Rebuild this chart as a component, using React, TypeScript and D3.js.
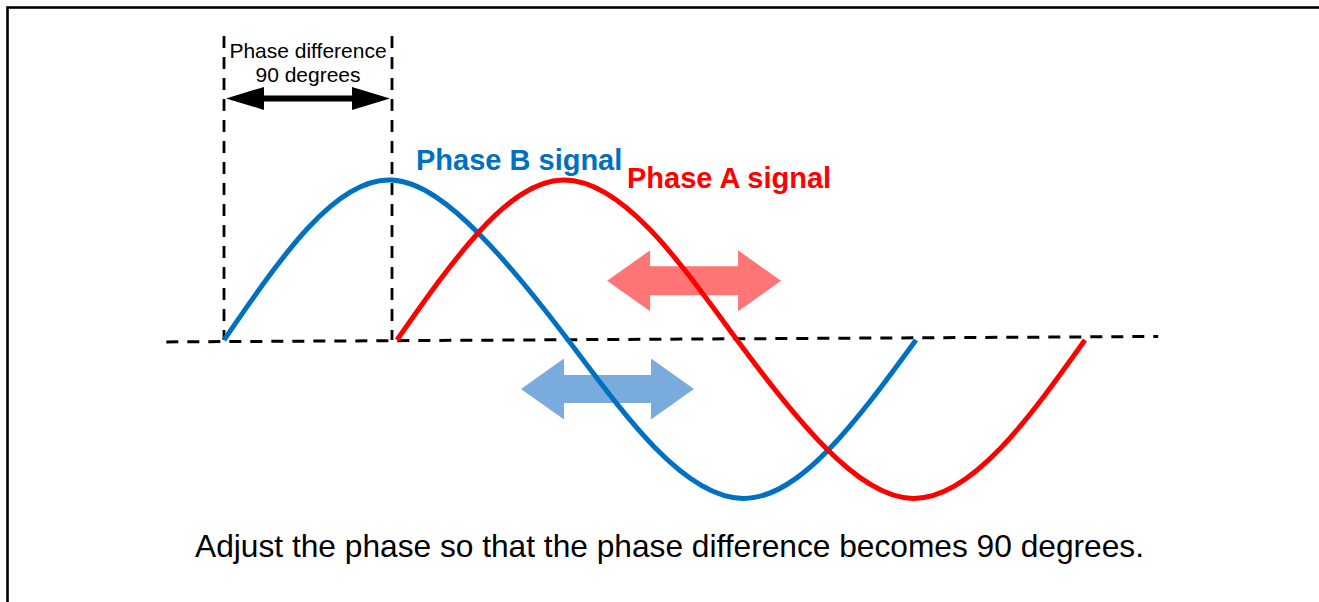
import React from 'react';
import * as d3 from 'd3';

// phase in degrees, amplitude in signal units
const phaseB = [0, 43.7, 87.4, 133, 179, 224, 270, 315, 360];
const ampB = [0, 0.7, 1.0, 0.66, 0, -0.67, -0.99, -0.68, 0];

const phaseA = [90, 133, 176.4, 221.6, 266.9, 312.7, 358.4, 403.7, 447.9];
const ampA = [0, 0.68, 1.0, 0.69, 0, -0.67, -0.99, -0.68, 0];

const baselinePhase = [-30, 486];
const baselineAmp = [-0.012, 0.022];

const markerPhase = [0, 87.4];
const markerTop = 1.9;

const diffLabel = ['Phase difference', '90 degrees'];
const seriesLabels = ['Phase B signal', 'Phase A signal'];
const caption = 'Adjust the phase so that the phase difference becomes 90 degrees.';

// shift arrows: [from phase, to phase, amplitude]
const shiftArrowA = [199.3, 289.8, 0.37];
const shiftArrowB = [154.5, 244.5, -0.306];

const BLUE = '#0070C0';
const RED = '#FF0000';

function doubleArrow(x0, x1, y, head, headH, shaftH) {
    const pts = [
        [x0, y],
        [x0 + head, y - headH / 2],
        [x0 + head, y - shaftH / 2],
        [x1 - head, y - shaftH / 2],
        [x1 - head, y - headH / 2],
        [x1, y],
        [x1 - head, y + headH / 2],
        [x1 - head, y + shaftH / 2],
        [x0 + head, y + shaftH / 2],
        [x0 + head, y + headH / 2],
    ];
    return 'M' + pts.map((p) => p.join(',')).join('L') + 'Z';
}

export default function App() {
    const width = 1319;
    const height = 602;

    const x = d3.scaleLinear([0, 360], [224, 916]);
    const y = d3.scaleLinear([-1, 1], [500, 180]);

    const line = d3
        .line((d) => x(d[0]), (d) => y(d[1]))
        .curve(d3.curveNatural);

    const blue = phaseB.map((p, i) => [p, ampB[i]]);
    const red = phaseA.map((p, i) => [p, ampA[i]]);

    const diffY = y(1.51);
    const midX = (x(markerPhase[0]) + x(markerPhase[1])) / 2;

    return (
        <svg
            width={width}
            height={height}
            style={{ position: 'absolute', left: 0, top: 0, display: 'block' }}
            fontFamily="'Liberation Sans', Arial, sans-serif"
        >
            <rect x={7.5} y={7.5} width={1400} height={700} fill="#fff" stroke="#000" strokeWidth={2.6} />

            {/* baseline */}
            <line
                x1={x(baselinePhase[0])}
                y1={y(baselineAmp[0])}
                x2={x(baselinePhase[1])}
                y2={y(baselineAmp[1])}
                stroke="#000"
                strokeWidth={3}
                strokeDasharray="12,9"
            />

            {/* 90 degree markers */}
            {markerPhase.map((p, i) => (
                <line
                    key={i}
                    x1={x(p)}
                    x2={x(p)}
                    y1={y(markerTop)}
                    y2={y(0)}
                    stroke="#000"
                    strokeWidth={2.8}
                    strokeDasharray="12,9"
                />
            ))}

            <path
                d={doubleArrow(x(markerPhase[0]) + 2, x(markerPhase[1]) - 2, diffY, 38, 23, 6)}
                fill="#000"
            />
            <text x={midX} y={58} textAnchor="middle" fontSize={21}>{diffLabel[0]}</text>
            <text x={midX} y={82} textAnchor="middle" fontSize={21}>{diffLabel[1]}</text>

            {/* shift arrows */}
            <path
                d={doubleArrow(x(shiftArrowA[0]), x(shiftArrowA[1]), y(shiftArrowA[2]), 43, 61, 29)}
                fill="#FF7575"
            />
            <path
                d={doubleArrow(x(shiftArrowB[0]), x(shiftArrowB[1]), y(shiftArrowB[2]), 43, 61, 28)}
                fill="#7AABDD"
            />

            <path d={line(blue)} fill="none" stroke={BLUE} strokeWidth={5} />
            <path d={line(red)} fill="none" stroke={RED} strokeWidth={5} />

            <text x={416} y={170} fontSize={29} fontWeight="bold" fill={BLUE}>{seriesLabels[0]}</text>
            <text x={627} y={188} fontSize={29} fontWeight="bold" fill={RED}>{seriesLabels[1]}</text>

            <text x={669.5} y={557} textAnchor="middle" fontSize={31.7}>{caption}</text>
        </svg>
    );
}
